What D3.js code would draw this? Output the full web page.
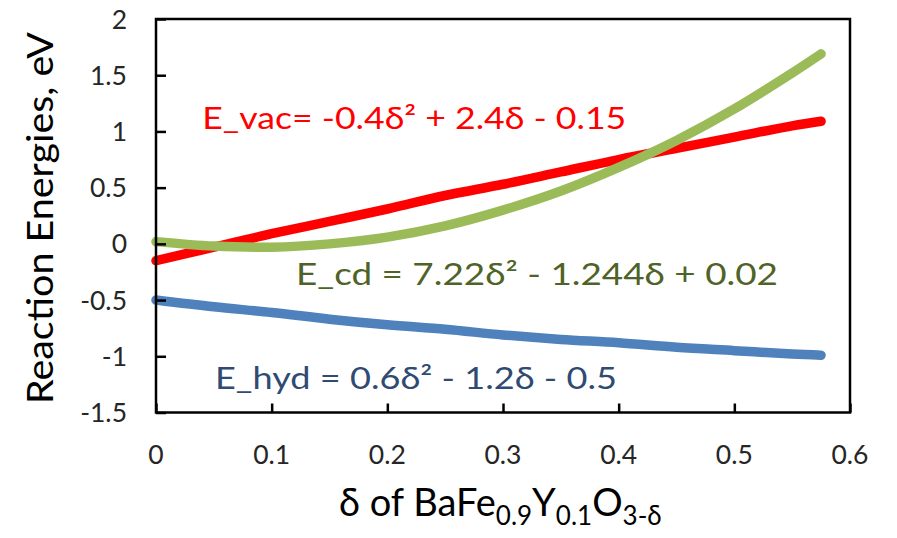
<!DOCTYPE html>
<html>
<head>
<meta charset="utf-8">
<script src="https://cdn.jsdelivr.net/npm/d3@7"></script>
<style>
  html, body { margin: 0; padding: 0; background: #fff; }
  svg { display: block; font-family: Lato, "Noto Sans", sans-serif; }
</style>
</head>
<body>
<svg id="chart" width="897" height="538"></svg>
<script>
// ---- data ----
const delta   = [0, 0.05, 0.10, 0.15, 0.20, 0.25, 0.30, 0.35, 0.40, 0.45, 0.50, 0.55, 0.575];
const eVac    = [-0.15, -0.03, 0.09, 0.20, 0.31, 0.43, 0.53, 0.64, 0.75, 0.85, 0.95, 1.05, 1.09];
const eCd     = [0.02, -0.02, -0.03, 0.00, 0.06, 0.16, 0.30, 0.47, 0.68, 0.92, 1.20, 1.52, 1.69];
const eHyd    = [-0.50, -0.56, -0.61, -0.67, -0.72, -0.76, -0.81, -0.85, -0.88, -0.92, -0.95, -0.98, -0.99];
const xTicks  = [0, 0.1, 0.2, 0.3, 0.4, 0.5, 0.6];
const yTicks  = [-1.5, -1, -0.5, 0, 0.5, 1, 1.5, 2];
const seriesNames  = ["E_vac", "E_cd", "E_hyd"];
const seriesLabels = ["E_vac= -0.4δ² + 2.4δ - 0.15", "E_cd = 7.22δ² - 1.244δ + 0.02", "E_hyd = 0.6δ² - 1.2δ - 0.5"];
const yTitle = "Reaction Energies, eV";

// ---- layout ----
const svg = d3.select("#chart");
const L = 156, R = 850, T = 19, B = 412.5;
const x = d3.scaleLinear().domain([0, 0.6]).range([L, R]);
const y = d3.scaleLinear().domain([-1.5, 2]).range([B, T]);

const lineColors = ["#FF0000", "#9BBB59", "#4F81BD"];
const textColors = ["#FF0000", "#4F6228", "#2F4B73"];

const series = [eVac, eCd, eHyd];

// lines
const line = d3.line().x((d, i) => x(delta[i])).y(d => y(d)).curve(d3.curveCatmullRom.alpha(0.5));
svg.append("g").selectAll("path").data(series).join("path")
  .attr("d", d => line(d))
  .attr("fill", "none")
  .attr("stroke", (d, i) => lineColors[i])
  .attr("stroke-width", 9.5)
  .attr("stroke-linecap", "round")
  .attr("stroke-linejoin", "round");

// frame
svg.append("rect").attr("x", L).attr("y", T).attr("width", R - L).attr("height", B - T)
  .attr("fill", "none").attr("stroke", "#000").attr("stroke-width", 2.5);

// axes with inward ticks
const xAxis = d3.axisTop(x).tickValues(xTicks).tickSize(9).tickFormat("");
const gx = svg.append("g").attr("transform", `translate(0,${B})`).call(xAxis);
gx.select(".domain").remove();
gx.selectAll("line").attr("stroke", "#000").attr("stroke-width", 2.5);

const yAxis = d3.axisRight(y).tickValues(yTicks).tickSize(10).tickFormat("");
const gy = svg.append("g").attr("transform", `translate(${L},0)`).call(yAxis);
gy.select(".domain").remove();
gy.selectAll("line").attr("stroke", "#000").attr("stroke-width", 2.5);

// tick labels
svg.append("g").selectAll("text").data(xTicks).join("text")
  .attr("x", d => x(d)).attr("y", 464)
  .attr("text-anchor", "middle")
  .attr("font-size", 26.5).attr("fill", "#262626")
  .text(d => d3.format("")(d));

svg.append("g").selectAll("text").data(yTicks).join("text")
  .attr("x", 127).attr("y", d => y(d))
  .attr("dy", "0.36em")
  .attr("text-anchor", "end")
  .attr("font-size", 26.5).attr("fill", "#262626")
  .text(d => d3.format("")(d).replace("−", "-"));

// axis titles
svg.append("text")
  .attr("transform", `translate(53,218) rotate(-90)`)
  .attr("text-anchor", "middle")
  .attr("font-size", 36).attr("fill", "#000")
  .attr("textLength", 372).attr("lengthAdjust", "spacingAndGlyphs")
  .text(yTitle);

const xt = svg.append("text")
  .attr("x", 339).attr("y", 516)
  .attr("font-size", 38).attr("fill", "#000");
const parts = [["δ of BaFe", 0], ["0.9", 1], ["Y", 0], ["0.1", 1], ["O", 0], ["3-δ", 1]];
let prevSub = 0;
parts.forEach(([t, sub]) => {
  const ts = xt.append("tspan").text(t);
  if (sub) ts.attr("font-size", 26);
  const dy = (sub ? 9 : 0) - (prevSub ? 9 : 0);
  if (dy) ts.attr("dy", dy);
  prevSub = sub;
});

// equation annotations (anchored in data units)
const labelPos = [[0.04, 1.02], [0.121, -0.37], [0.051, -1.29]];
svg.append("g").selectAll("text").data(seriesLabels).join("text")
  .attr("x", (d, i) => x(labelPos[i][0]))
  .attr("y", (d, i) => y(labelPos[i][1]))
  .attr("fill", (d, i) => textColors[i])
  .attr("font-size", 31)
  .attr("textLength", (d, i) => [424, 482, 402][i])
  .attr("lengthAdjust", "spacingAndGlyphs")
  .text(d => d);
</script>
</body>
</html>
